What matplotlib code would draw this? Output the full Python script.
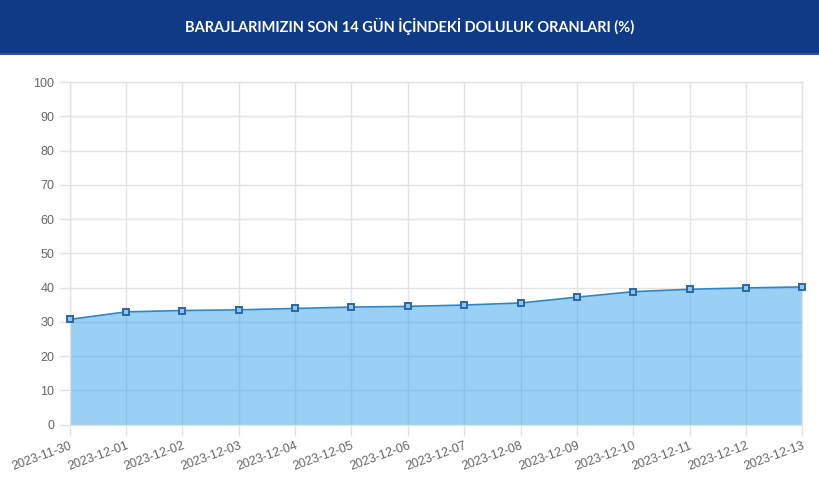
import matplotlib
matplotlib.use("Agg")
from matplotlib import pyplot as plt
from matplotlib.patches import Rectangle

# data
dates = ["2023-11-30", "2023-12-01", "2023-12-02", "2023-12-03", "2023-12-04",
         "2023-12-05", "2023-12-06", "2023-12-07", "2023-12-08", "2023-12-09",
         "2023-12-10", "2023-12-11", "2023-12-12", "2023-12-13"]
doluluk = [30.7, 32.9, 33.3, 33.5, 33.9, 34.3, 34.5, 34.9, 35.5, 37.2,
           38.8, 39.5, 39.9, 40.2]
y_ticks = list(range(0, 101, 10))
title = "BARAJLARIMIZIN SON 14 GÜN İÇİNDEKİ DOLULUK ORANLARI (%)"

plt.rcParams['font.family'] = ['Liberation Sans', 'DejaVu Sans']

fig = plt.figure(figsize=(8.2, 4.84), dpi=100)
fig.patch.set_facecolor("white")

# title banner
fig.patches.append(Rectangle((0, 1 - 53 / 484), 1, 53 / 484, transform=fig.transFigure,
                             facecolor="#0f3a86", edgecolor="none", zorder=0))
fig.patches.append(Rectangle((0, 1 - 55 / 484), 1, 2 / 484, transform=fig.transFigure,
                             facecolor="#2a5aa8", edgecolor="none", zorder=0))
fig.text(0.5, 1 - 26 / 484, title, color="white", ha="center", va="center",
         fontsize=10.5, fontweight="bold", family=["Lato", "DejaVu Sans"])

ax = fig.add_axes([69.5 / 820, 59.5 / 484, 733 / 820, 342.3 / 484])
x = list(range(len(dates)))

ax.fill_between(x, doluluk, 0, color=(54 / 255, 162 / 255, 235 / 255, 0.5),
                linewidth=0, zorder=2)
ax.plot(x, doluluk, color="#2f85c6", linewidth=1.2, zorder=3)
ax.plot(x, doluluk, linestyle="none", marker="s", markersize=5,
        markerfacecolor="#8fc6ea", markeredgecolor="#2a68a6", markeredgewidth=1.4,
        zorder=4, clip_on=False)

ax.set_xlim(0, len(dates) - 1)
ax.set_ylim(0, 100)
ax.set_yticks(y_ticks)
ax.set_xticks(x)
ax.set_xticklabels(dates, rotation=20, ha="right", va="top", rotation_mode="anchor")

ax.grid(True, color="#e3e3e3", linewidth=1, zorder=0)
ax.set_axisbelow(True)
for side in ax.spines.values():
    side.set_color("#e3e3e3")
    side.set_linewidth(1)
ax.tick_params(axis="both", colors="#e3e3e3", labelcolor="#666666", labelsize=9,
               length=8, width=1)
ax.tick_params(axis="y", pad=3)
ax.tick_params(axis="x", pad=3)

fig.savefig("out.png", dpi=100)
